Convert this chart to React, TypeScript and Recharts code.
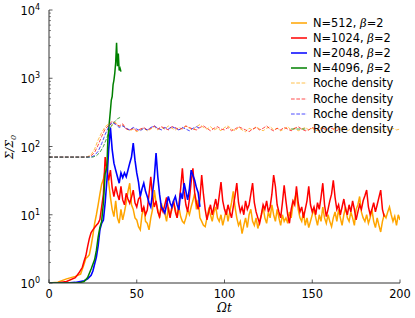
import { Line, LineChart, XAxis, YAxis } from 'recharts'

const W = 415
const H = 318

const range = (a: number, b: number) => Array.from({ length: b - a + 1 }, (_, i) => a + i)

// N=512 (orange)
const n512EarlyT = [0, 5, 10, 15, 18, 20, 21, 22, 23, 24, 25, 26, 27, 28, 29]
const n512EarlyV = [1, 1.03, 1.15, 1.25, 1.35, 1.9, 2.3, 2.4, 2.6, 3.5, 5, 7.5, 10, 14, 20]
const n512Late = [
  28, 33, 45, 55, 30, 18, 12, 9.4, 16, 9,
  7.5, 12, 8.4, 11, 15, 22, 29, 14, 12, 9,
  8.4, 6.7, 6, 10, 13, 8, 7.5, 6, 9, 12,
  23, 15, 11.7, 9, 14.7, 12, 10.5, 8, 13, 10,
  11.7, 15, 12, 9, 13, 9.4, 8, 7.5, 9, 11.7,
  10, 13, 16, 20.6, 12, 16.5, 9, 8, 7, 6.7,
  9, 12, 10, 8, 11, 13, 9, 8, 10, 7,
  9, 12, 8, 11, 15, 22, 13, 9, 7, 8,
  5.3, 7, 9, 6.5, 10, 12, 8, 7, 9, 6.3,
  8, 10, 13, 9, 7.5, 11, 9, 14, 10, 8,
  12, 9, 7, 10, 8, 9, 7.5, 11, 9, 14,
  17, 21, 12, 9, 8, 11, 7, 9, 6.5, 8,
  10, 12, 9, 7, 10, 8, 13, 9, 7.5, 10,
  8, 6.7, 9, 11, 8, 12, 9, 7, 10, 13,
  9, 8, 11, 9, 7, 12, 14, 18.5, 11, 9,
  8, 10, 7.5, 9, 12, 8, 6.5, 9, 7, 5.6,
  8, 10, 9, 11, 13, 10, 8, 9.5, 7, 10,
  8.4,
]

// N=1024 (red)
const n1024EarlyT = [0, 5, 10, 15, 17, 19, 20, 21, 22, 23, 24, 25, 26, 27, 28, 29]
const n1024EarlyV = [1, 1.01, 1.05, 1.2, 1.4, 1.7, 2.1, 2.5, 3.4, 4.5, 5.5, 6, 6.5, 7, 7.5, 8.5]
const n1024Late = [
  13, 20, 70, 45, 32, 45, 25, 18.5, 26, 20,
  16.5, 26, 16.5, 14, 20.6, 17, 14.7, 18, 23, 15,
  13, 17, 18.5, 11, 13, 10, 11.7, 20, 36, 18,
  13, 16, 11, 9.4, 13, 11, 14, 18, 12, 9,
  13, 16, 11, 9, 14, 24, 48, 22, 14, 11,
  17, 30, 48, 21, 15, 12, 17, 38, 20, 12,
  8.4, 11, 14, 10, 13, 17, 12, 19, 30, 16,
  12, 10, 14, 11, 9, 13, 19, 29, 15, 11,
  13, 10, 16, 12, 14, 20, 29, 15, 11, 9,
  7.5, 10, 14, 12, 16, 11, 13, 20, 38, 26,
  14, 11, 9, 15, 27, 16, 10, 7.5, 12, 16,
  14, 26, 15, 11, 13, 9, 12, 16, 26, 14,
  11, 13, 10, 15, 12, 18, 29, 14, 9.4, 12,
  16, 20, 32, 18, 12, 14, 10, 13, 17, 12,
  10, 14, 11, 16, 12, 8.4, 11, 14, 12, 16,
  19, 23, 13, 10, 12, 15, 11, 14, 18, 23,
  12, 9.4,
]

// N=2048 (blue)
const n2048EarlyT = [0, 10, 15, 20, 22, 24, 25, 26, 27, 28, 29]
const n2048EarlyV = [1, 1, 1.02, 1.08, 1.15, 1.3, 1.5, 1.9, 2.4, 3.5, 6]
const n2048Late = [
  7.5, 8.4, 15, 32, 90, 190, 90, 57, 45, 36,
  29, 41, 35, 41, 36, 45, 57, 70, 112, 63,
  41, 30, 18.5, 24, 29, 22, 18.5, 15, 13, 21,
  35, 80, 36, 20, 13, 12, 10.6, 14, 18.5, 15,
  13, 16, 18.5, 14, 11.7, 21, 17, 29, 22, 16.5,
  24, 45, 38, 32, 25, 21, 13,
]

// N=4096 (green)
const n4096T = [0, 10, 15, 18, 20, 22, 24, 26, 27, 28, 29, 30, 31, 32, 32.5, 33, 33.5, 34, 35, 35.5, 36, 36.5, 37, 37.5, 38, 38.5, 39, 39.5, 40, 40.5, 41]
const n4096V = [1, 1, 1, 1.02, 1.05, 1.2, 1.6, 2.2, 3, 4.7, 6.5, 8, 15, 40, 45, 50, 120, 175, 340, 480, 540, 800, 940, 1200, 1700, 3300, 1500, 2300, 1300, 1400, 1250]

// Roche density (dashed)
const rocheOrangeT = [0, 20, 22, 24, 26, 28, 30, 32, 34, 36, 38, 40, 42, ...range(22, 100).map((i) => i * 2)]
const rocheOrangeV = [
  70, 70, 71, 76, 92, 125, 160, 195, 215, 205, 225, 195, 205,
  185, 170, 180, 165, 175, 185, 170, 180, 195, 175, 190, 180, 200, 185, 175, 190,
  180, 200, 185, 175, 195, 210, 190, 180, 195, 175, 185, 170, 190, 200, 180, 170,
  190, 175, 165, 185, 175, 195, 180, 170, 185, 195, 175, 185, 170, 180, 195, 175,
  185, 170, 180, 190, 175, 185, 170, 180, 195, 175, 165, 180, 190, 175, 185, 170,
  180, 190, 175, 165, 185, 175, 190, 170, 180, 165, 180, 170, 185, 175, 180,
]
const rocheRedT = [0, 22, 24, 26, 28, 30, 32, 34, 36, 38, 40, 42, ...range(22, 95).map((i) => i * 2)]
const rocheRedV = [
  70, 70, 73, 82, 105, 140, 180, 205, 235, 215, 200, 215,
  180, 175, 185, 170, 180, 190, 175, 185, 200, 180, 195, 185, 175, 195, 190,
  175, 185, 200, 190, 180, 175, 190, 200, 185, 170, 185, 195, 180, 175, 190,
  170, 180, 195, 185, 175, 165, 180, 190, 175, 185, 200, 180, 170, 185, 175,
  190, 180, 170, 185, 195, 180, 170, 175, 190, 180, 170, 185, 175, 190, 180,
  170, 185,
]
const rocheBlueT = [0, 24, 26, 28, 30, 32, 34, 36, 38, 40, 42, ...range(22, 43).map((i) => i * 2)]
const rocheBlueV = [
  70, 70, 74, 85, 110, 150, 195, 225, 210, 190, 200,
  185, 175, 190, 180, 170, 185, 175, 190, 200, 185, 175, 190, 180, 195, 185,
  175, 190, 180, 170, 185, 195, 185,
]
const rocheGreenT = [0, 25, 27, 29, 31, 33, 35, 37, 39, 41]
const rocheGreenV = [70, 70, 73, 82, 100, 135, 190, 225, 255, 270]

const toPoints = (ts: number[], vs: number[]) => ts.map((t, i) => ({ t, v: vs[i] }))

const n512 = toPoints([...n512EarlyT, ...range(30, 200)], [...n512EarlyV, ...n512Late])
const n1024 = toPoints([...n1024EarlyT, ...range(30, 191)], [...n1024EarlyV, ...n1024Late])
const n2048 = toPoints([...n2048EarlyT, ...range(30, 86)], [...n2048EarlyV, ...n2048Late])
const n4096 = toPoints(n4096T, n4096V)

const xTicks = [0, 50, 100, 150, 200]
const yMajor = [1, 10, 100, 1000, 10000]
const yTicks = [...yMajor, ...[1, 10, 100, 1000].flatMap((d) => [2, 3, 4, 5, 6, 7, 8, 9].map((m) => m * d))]

const sans = 'DejaVu Sans, sans-serif'
const serif = 'DejaVu Serif, serif'
const axisColor = '#333'
const dashOpacity = 0.7

function YTick({ x, y, payload }: any) {
  const v = payload.value
  const exp = Math.round(Math.log10(v))
  const major = Math.abs(v - 10 ** exp) < 1e-6
  return (
    <g>
      <line x1={x} x2={x + (major ? 3.5 : 2)} y1={y} y2={y} stroke={axisColor} strokeWidth={major ? 0.8 : 0.6} />
      {major && (
        <text x={x - 9} y={y + 5} textAnchor="end" fontFamily={sans} fontSize={11.4} fill="#000">
          10<tspan dy={-5} fontSize={8}>{exp}</tspan>
        </text>
      )}
    </g>
  )
}

function XTick({ x, y, payload }: any) {
  return (
    <g>
      <line x1={x} x2={x} y1={y} y2={y - 3.5} stroke={axisColor} strokeWidth={0.8} />
      <text x={x} y={y + 14.5} textAnchor="middle" fontFamily={sans} fontSize={11.4} fill="#000">
        {payload.value}
      </text>
    </g>
  )
}

const legendItems = [
  { n: '512', color: '#FFA500', dash: false },
  { n: '1024', color: '#FF0000', dash: false },
  { n: '2048', color: '#0000FF', dash: false },
  { n: '4096', color: '#008000', dash: false },
  { color: '#FFA500', dash: true },
  { color: '#FF0000', dash: true },
  { color: '#0000FF', dash: true },
  { color: '#008000', dash: true },
]

function LegendBox() {
  return (
    <div style={{ position: 'absolute', left: 291, top: 15.5, fontFamily: sans, fontSize: 11.4 }}>
      {legendItems.map((it, i) => (
        <div key={i} style={{ height: 15.1, display: 'flex', alignItems: 'center', whiteSpace: 'nowrap' }}>
          <svg width={16} height={6} style={{ marginRight: 6 }}>
            <line
              x1={0}
              x2={16}
              y1={3}
              y2={3}
              stroke={it.color}
              strokeOpacity={it.dash ? dashOpacity : 1}
              strokeWidth={it.dash ? 1 : 1.5}
              strokeDasharray={it.dash ? '3.7 1.6' : undefined}
            />
          </svg>
          {it.dash ? (
            <span>Roche density</span>
          ) : (
            <span>
              N={it.n}, <span style={{ fontFamily: serif, fontStyle: 'italic' }}>β</span>=2
            </span>
          )}
        </div>
      ))}
    </div>
  )
}

export default function App() {
  return (
    <div style={{ position: 'fixed', left: 0, top: 0, width: W, height: H, background: '#fff' }}>
      <LineChart width={W} height={H} margin={{ top: 10, right: 15, bottom: 0, left: 0 }}>
        <XAxis
          dataKey="t"
          type="number"
          domain={[0, 200]}
          ticks={xTicks}
          interval={0}
          allowDataOverflow
          height={35}
          tickSize={0}
          tickMargin={0}
          tickLine={false}
          tick={<XTick />}
          axisLine={{ stroke: axisColor, strokeWidth: 1 }}
        />
        <YAxis
          dataKey="v"
          type="number"
          scale="log"
          domain={[1, 10000]}
          ticks={yTicks}
          interval={0}
          allowDataOverflow
          width={49}
          tickSize={0}
          tickMargin={0}
          tickLine={false}
          tick={<YTick />}
          axisLine={{ stroke: axisColor, strokeWidth: 1 }}
        />
        <Line data={n512} dataKey="v" type="linear" stroke="#FFA500" strokeWidth={1.5} dot={false} isAnimationActive={false} />
        <Line data={n1024} dataKey="v" type="linear" stroke="#FF0000" strokeWidth={1.5} dot={false} isAnimationActive={false} />
        <Line data={n2048} dataKey="v" type="linear" stroke="#0000FF" strokeWidth={1.6} dot={false} isAnimationActive={false} />
        <Line data={n4096} dataKey="v" type="linear" stroke="#008000" strokeWidth={1.5} dot={false} isAnimationActive={false} />
        <Line data={toPoints(rocheOrangeT, rocheOrangeV)} dataKey="v" type="linear" stroke="#FFA500" strokeOpacity={dashOpacity} strokeWidth={1} strokeDasharray="3.7 1.6" dot={false} isAnimationActive={false} />
        <Line data={toPoints(rocheRedT, rocheRedV)} dataKey="v" type="linear" stroke="#FF0000" strokeOpacity={dashOpacity} strokeWidth={1} strokeDasharray="3.7 1.6" dot={false} isAnimationActive={false} />
        <Line data={toPoints(rocheBlueT, rocheBlueV)} dataKey="v" type="linear" stroke="#0000FF" strokeOpacity={dashOpacity} strokeWidth={1} strokeDasharray="3.7 1.6" dot={false} isAnimationActive={false} />
        <Line data={toPoints(rocheGreenT, rocheGreenV)} dataKey="v" type="linear" stroke="#008000" strokeOpacity={dashOpacity} strokeWidth={1} strokeDasharray="3.7 1.6" dot={false} isAnimationActive={false} />
        <text x={224.5} y={312} textAnchor="middle" fontFamily={serif} fontStyle="italic" fontSize={12}>
          Ωt
        </text>
        <text x={0} y={0} transform="translate(12.5,147) rotate(-90)" textAnchor="middle" fontFamily={serif} fontStyle="italic" fontSize={11}>
          Σ/Σ<tspan dy={3} fontSize={8}>0</tspan>
        </text>
      </LineChart>
      <LegendBox />
    </div>
  )
}
